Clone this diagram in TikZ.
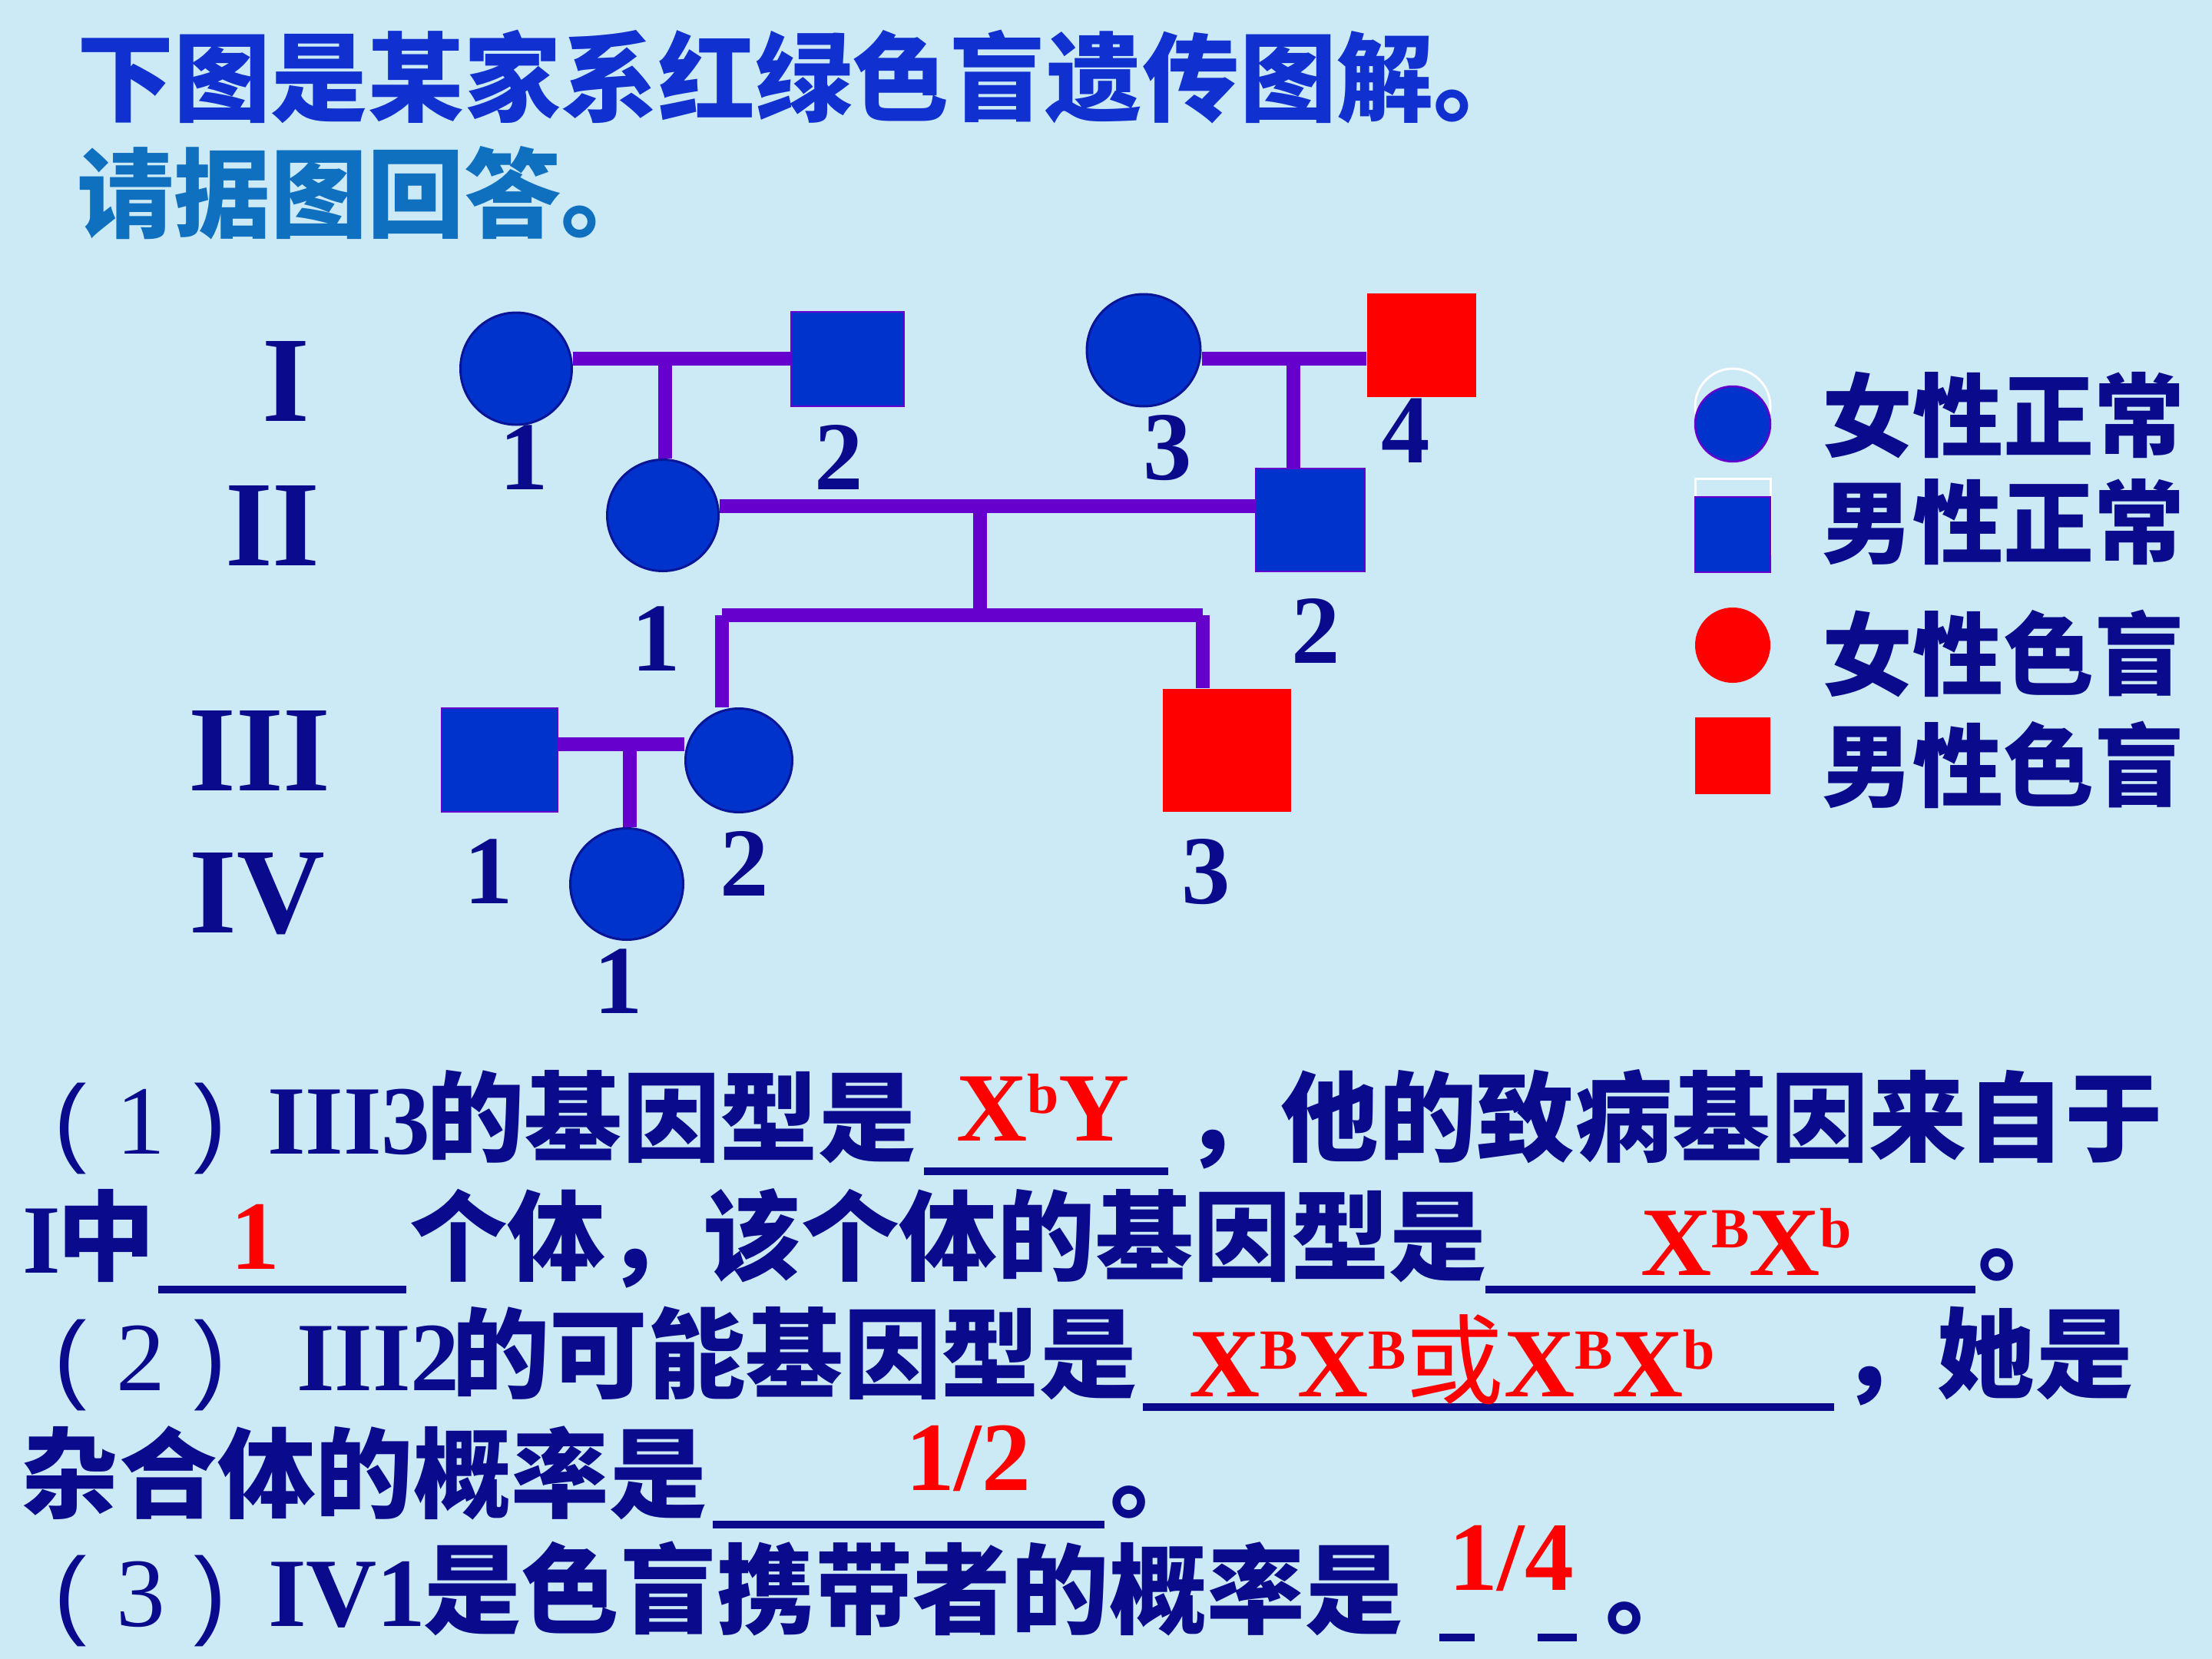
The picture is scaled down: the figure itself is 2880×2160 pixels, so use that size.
\documentclass[tikz,border=0pt]{standalone}
\usepackage{fontspec}
\setmainfont{Liberation Serif}
\newfontfamily\cjk{Noto Sans CJK SC}
\newfontfamily\lsans{Liberation Sans}
\usetikzlibrary{shapes.geometric}
\definecolor{bg}{RGB}{204,233,246}
\definecolor{navy}{RGB}{10,10,140}
\definecolor{symblue}{RGB}{0,51,204}
\definecolor{symedge}{RGB}{10,20,150}
\definecolor{lnpurple}{RGB}{102,0,204}
\definecolor{ttlblue}{RGB}{16,48,208}
\definecolor{ttlteal}{RGB}{16,112,192}
\definecolor{ansred}{RGB}{255,0,0}
\newcommand\fsbody{\fontsize{36.3pt}{40pt}\selectfont}
\newcommand\gsup[1]{{\fontsize{21pt}{21pt}\selectfont\raisebox{10pt}{#1}}}
\tikzset{
  fem/.style={ellipse, draw=symedge, line width=0.3mm, fill=symblue, inner sep=0},
  femleg/.style={ellipse, draw=lnpurple, line width=0.25mm, fill=symblue, inner sep=0},
  femred/.style={ellipse, fill=ansred, inner sep=0},
  mal/.style={rectangle, draw=lnpurple, line width=0.2mm, fill=symblue, inner sep=0},
  malred/.style={rectangle, fill=ansred, inner sep=0},
  pline/.style={draw=lnpurple, line width=1.8mm},
  gen/.style={inner sep=0, anchor=base, text=navy, font=\fontsize{45.2pt}{50pt}\selectfont\bfseries},
  num/.style={inner sep=0, anchor=base, text=navy, font=\fontsize{36.1pt}{40pt}\selectfont\bfseries},
  txt/.style={inner sep=0, outer sep=0, anchor=base west, text=navy},
  cj/.style={txt, font=\fsbody\cjk\bfseries},
  tm/.style={txt, font=\fsbody\bfseries},
  tmr/.style={txt, font=\fsbody},
  par/.style={txt, font=\fsbody\lsans},
  ans/.style={txt, text=ansred, font=\fsbody\bfseries},
  uline/.style={draw=navy, line width=1mm},
  leg/.style={txt, font=\fontsize{33.6pt}{38pt}\selectfont\cjk\bfseries},
}
\begin{document}
\begin{tikzpicture}[x=0.1mm, y=-0.1mm]
\useasboundingbox (0,0) rectangle (2880,2160);
\fill[bg] (0,0) rectangle (2880,2160);

% title
\node[cj, text=ttlblue, font=\fontsize{35.9pt}{40pt}\selectfont\cjk\bfseries] (title1) at (100,148) {下图是某家系红绿色盲遗传图解。};
\node[cj, text=ttlteal, font=\fontsize{35.9pt}{40pt}\selectfont\cjk\bfseries] (title2) at (100,299) {请据图回答。};

% generation labels
\node[gen] (gI) at (372,548) {I};
\node[gen] (gII) at (355,736) {II};
\node[gen] (gIII) at (338,1029) {III};
\node[gen] (gIV) at (335,1214) {IV};

% junction coordinates
\coordinate (m1) at (866,467);
\coordinate (m2) at (1684,467);
\coordinate (m3) at (1276,659);
\coordinate (s3) at (1276,801);
\coordinate (sl) at (940,801);
\coordinate (sr) at (1566,801);
\coordinate (m4) at (820,969);

% individuals
\node[fem, minimum width=14.5mm, minimum height=14.6mm] (I1) at (672,480) {};
\node[mal, minimum width=14.7mm, minimum height=12.3mm] (I2) at (1103.5,467.5) {};
\node[fem, minimum width=14.8mm, minimum height=14.6mm] (I3) at (1489,456) {};
\node[malred, minimum width=14.2mm, minimum height=13.5mm] (I4) at (1851,449.5) {};
\node[fem, minimum width=14.5mm, minimum height=14.5mm] (II1) at (863,671) {};
\node[mal, minimum width=14.2mm, minimum height=13.4mm] (II2) at (1706,677) {};
\node[mal, minimum width=15.1mm, minimum height=13.5mm] (III1) at (650.5,989.5) {};
\node[fem, minimum width=13.9mm, minimum height=13.5mm] (III2) at (962,990) {};
\node[malred, minimum width=16.7mm, minimum height=16.0mm] (III3) at (1597.5,977) {};
\node[fem, minimum width=14.7mm, minimum height=14.5mm] (IV1) at (816,1151) {};

% connectors
\draw[pline] (m1 -| I1.east) -- (m1 -| I2.west);
\draw[pline] (m1) -- (m1 |- II1.north);
\draw[pline] (m2 -| I3.east) -- (m2 -| I4.west);
\draw[pline] (m2) -- (m2 |- II2.north);
\draw[pline] (m3 -| II1.east) -- (m3 -| II2.west);
\draw[pline] (m3) -- (s3);
\draw[pline] (sl) -- (sr);
\draw[pline] (sl) -- (sl |- III2.north);
\draw[pline] (sr) -- (sr |- III3.north);
\draw[pline] (m4 -| III1.east) -- (m4 -| III2.west);
\draw[pline] (m4) -- (m4 |- IV1.north);

% numbers
\node[num] (nI1) at (682,637) {1};
\node[num] (nI2) at (1092,637) {2};
\node[num] (nI3) at (1520,624) {3};
\node[num] (nI4) at (1830,602) {4};
\node[num] (nII1) at (854,873) {1};
\node[num] (nII2) at (1713,863) {2};
\node[num] (nIII1) at (636,1176) {1};
\node[num] (nIII2) at (969,1166) {2};
\node[num] (nIII3) at (1570,1176) {3};
\node[num] (nIV1) at (805,1319) {1};

% legend
\draw[white, line width=0.3mm] (2256,529) circle [radius=4.9mm];
\draw[white, line width=0.3mm] (2207,623) rectangle (2305,721);
\node[femleg, minimum width=9.8mm, minimum height=9.8mm] (lg1) at (2256,552) {};
\node[mal, minimum width=9.8mm, minimum height=9.8mm] (lg2) at (2256,696) {};
\node[femred, minimum width=9.8mm, minimum height=9.8mm] (lg3) at (2256,840) {};
\node[malred, minimum width=9.8mm, minimum height=10.0mm] (lg4) at (2256,984) {};
\node[leg] (lt1) at (2372,585) {女性正常};
\node[leg] (lt2) at (2372,724) {男性正常};
\node[leg] (lt3) at (2372,896) {女性色盲};
\node[leg] (lt4) at (2372,1041) {男性色盲};

% question line 1
\node[par] (a1p) at (70,1502) {(};
\node[tmr] (a1n) at (151,1502) {1};
\node[par] (a1q) at (252,1502) {)};
\node[tm] (a1r) at (348,1502) {III3};
\node[cj] (a1c) at (555,1502) {的基因型是};
\draw[uline] (1203,1525) -- (1521,1525);
\node[ans] (a1x) at (1245,1485) {X\gsup{b}Y};
\node[cj] (a1d) at (1540,1502) {，他的致病基因来自于};

% line 2
\node[tm] (b1) at (30,1657) {I};
\node[cj] (b2) at (75,1657) {中};
\draw[uline] (206,1679) -- (529,1679);
\node[ans] (b3) at (300,1652) {1};
\node[cj] (b4) at (533,1657) {个体，该个体的基因型是};
\draw[uline] (1934,1679) -- (2572,1679);
\node[ans] (b5) at (2136,1660) {X\gsup{B}X\gsup{b}};
\node[cj] (b6) at (2575,1657) {。};

% line 3
\node[par] (c1p) at (70,1810) {(};
\node[tmr] (c1n) at (151,1810) {2};
\node[par] (c1q) at (252,1810) {)};
\node[tm] (c1r) at (386,1810) {III2};
\node[cj] (c1c) at (588,1810) {的可能基因型是};
\draw[uline] (1488,1832) -- (2388,1832);
\node[ans] (c1x) at (1548,1818) {X\gsup{B}X\gsup{B}{\cjk\mdseries 或}X\gsup{B}X\gsup{b}};
\node[cj] (c1d) at (2395,1810) {，她是};

% line 4
\node[cj] (d1) at (28,1966) {杂合体的概率是};
\draw[uline] (928,1985) -- (1438,1985);
\node[ans] (d2) at (1179,1940) {1/2};
\node[cj] (d3) at (1445,1966) {。};

% line 5
\node[par] (e1p) at (70,2117) {(};
\node[tmr] (e1n) at (151,2117) {3};
\node[par] (e1q) at (252,2117) {)};
\node[tm] (e1r) at (349,2117) {IV1};
\node[cj] (e1c) at (551,2117) {是色盲携带者的概率是};
\draw[uline] (1874,2132) -- (1920,2132);
\draw[uline] (2002,2132) -- (2053,2132);
\node[ans] (e2) at (1886,2070) {1/4};
\node[cj] (e3) at (2090,2117) {。};
\end{tikzpicture}
\end{document}
